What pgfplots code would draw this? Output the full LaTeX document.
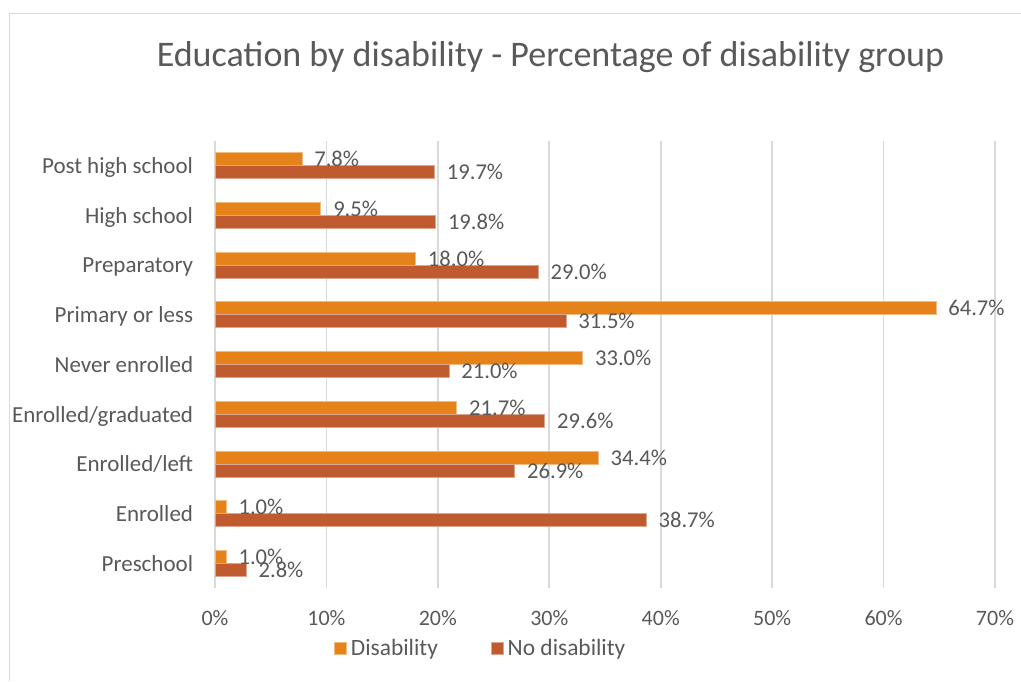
\documentclass[border=0pt]{standalone}
\usepackage{pgfplots}
\pgfplotsset{compat=1.18}
\usepackage{fontspec}
\setmainfont{Carlito}
\definecolor{dis}{HTML}{E6821A}
\definecolor{nodis}{HTML}{BF5B2E}
\definecolor{txt}{HTML}{595959}
\definecolor{gridc}{HTML}{D9D9D9}
\begin{document}
\begin{tikzpicture}[x=0.5pt,y=0.5pt]
\useasboundingbox (0,0) rectangle (1021,681);
\fill[white] (0,0) rectangle (1021,681);
\draw[gridc, line width=0.8pt] (9.5,0) -- (9.5,667.5) -- (1021,667.5);
\node[text=txt, font=\fontsize{18}{21}\selectfont, anchor=base] at (550.5,614) {Education by disability - Percentage of disability group};
\begin{axis}[
  at={(107.5pt,46.3pt)}, anchor=south west,
  scale only axis, width=390pt, height=223.9pt,
  xbar, xmin=0, xmax=70, ymin=-0.5, ymax=8.5,
  axis line style={draw=none},
  tick style={draw=none},
  xmajorgrids, grid style={gridc, line width=0.8pt},
  xtick={0,10,...,70},
  xticklabel={\pgfmathprintnumber{\tick}\%},
  /pgf/number format/assume math mode=true,
  ytick={0,...,8},
  yticklabels={Preschool,Enrolled,Enrolled/left,Enrolled/graduated,Never enrolled,Primary or less,Preparatory,High school,Post high school},
  y tick label style={font=\fontsize{11.5}{13}\selectfont, text=txt, anchor=base east, inner sep=0pt, xshift=-6.5pt, yshift=-3.9pt},
  x tick label style={font=\fontsize{11}{13}\selectfont, text=txt, anchor=base, inner sep=0pt, yshift=-18.3pt},
  bar width=6.5pt,
  nodes near coords={\pgfmathprintnumber[fixed,fixed zerofill,precision=1]{\pgfplotspointmeta}\%},
  every node near coord/.append style={font=\fontsize{11.3}{13}\selectfont, text=txt, anchor=base west, inner sep=0pt, xshift=6pt, yshift=-3.85pt},
  legend style={at={(0.342,-0.135)}, anchor=center, draw=none, fill=none, font=\fontsize{11.7}{13}\selectfont, text=txt, legend columns=2, /tikz/every even column/.append style={column sep=24.5pt}},
  legend image code/.code={\fill[#1] (0pt,-3pt) rectangle (6pt,3pt);},
]
\addplot[fill=dis, draw=dis!55!white, line width=0.4pt, bar shift=3.25pt] coordinates {(1.0,0) (1.0,1) (34.4,2) (21.7,3) (33.0,4) (64.7,5) (18.0,6) (9.5,7) (7.8,8)};
\addplot[fill=nodis, draw=nodis!55!white, line width=0.4pt, bar shift=-3.25pt] coordinates {(2.8,0) (38.7,1) (26.9,2) (29.6,3) (21.0,4) (31.5,5) (29.0,6) (19.8,7) (19.7,8)};
\legend{Disability, No disability}
\end{axis}
\end{tikzpicture}
\end{document}
